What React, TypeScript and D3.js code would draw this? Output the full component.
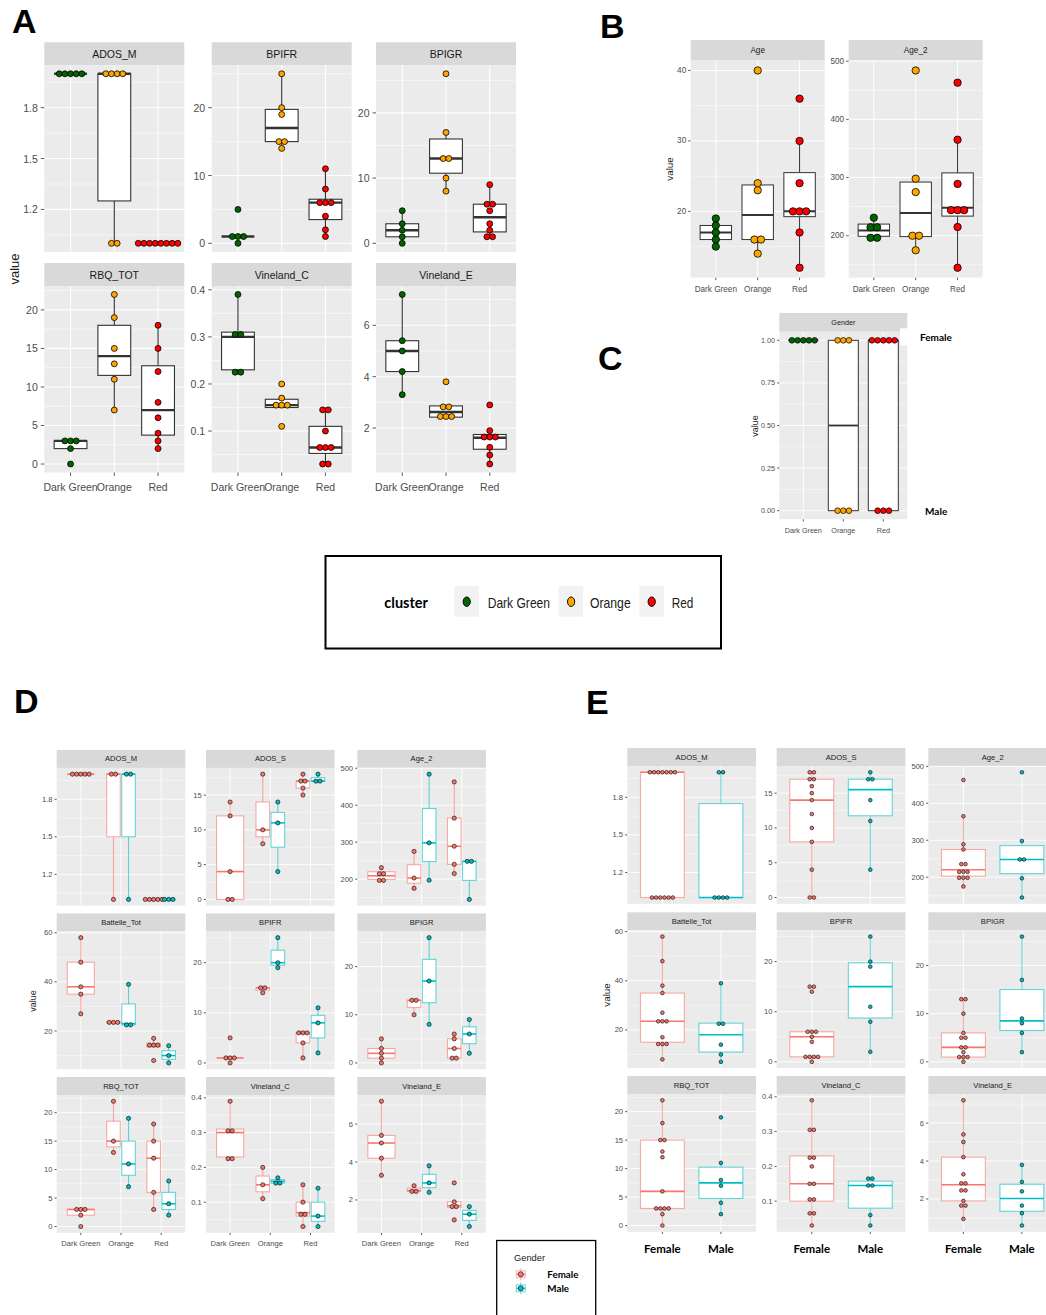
import React from "react";
import * as d3 from "d3";

// ---------- subjects: one entry per child ----------
const cluster = [
  "Dark Green", "Dark Green", "Dark Green", "Dark Green", "Dark Green",
  "Orange", "Orange", "Orange", "Orange", "Orange", "Orange",
  "Red", "Red", "Red", "Red", "Red", "Red", "Red", "Red",
];
const gender = [
  "Female", "Female", "Female", "Female", "Female",
  "Female", "Female", "Female", "Male", "Male", "Male",
  "Female", "Female", "Female", "Female", "Female", "Male", "Male", "Male",
];
const ADOS_M = [2, 2, 2, 2, 2, 2, 2, 1, 2, 2, 1, 1, 1, 1, 1, 1, 1, 1, 1];
const ADOS_S = [14, 12, 4, 0, 0, 18, 10, 8, 14, 11, 4, 18, 17, 17, 16, 15, 18, 17, 17];
const Age = [19, 18, 17, 16, 15, 23, 16, 14, 40, 24, 16, 36, 30, 24, 20, 17, 20, 20, 12];
const Age_2 = [231, 220, 209, 199, 194, 275, 203, 175, 484, 298, 197, 463, 365, 289, 240, 215, 248, 248, 145];
const Battelle_Tot = [58, 48, 38, 35, 27, 23, 23.5, 24, 39, 23, 22, 17, 15, 14, 13.5, 8, 14, 10, 7];
const BPIFR = [5, 1, 1, 1, 0, 15, 15, 14, 25, 20, 19, 6, 6, 6, 4, 1, 11, 8, 2];
const BPIGR = [5, 3, 2, 1, 0, 13, 13, 10, 26, 17, 8, 6, 5, 3, 1, 1, 9, 6, 2];
const RBQ_TOT = [3, 3, 3, 2, 0, 22, 15, 13, 19, 11, 7, 18, 15, 12, 6, 3, 8, 4, 2];
const Vineland_C = [0.39, 0.31, 0.3, 0.23, 0.22, 0.2, 0.15, 0.11, 0.17, 0.16, 0.15, 0.15, 0.1, 0.07, 0.06, 0.03, 0.14, 0.06, 0.03];
const Vineland_E = [7.2, 5.4, 5.0, 4.2, 3.3, 2.75, 2.5, 2.4, 3.8, 2.9, 2.4, 2.9, 1.9, 1.7, 1.6, 0.95, 1.65, 1.25, 0.6];
const GenderCode = gender.map((g) => (g === "Female" ? 1 : 0));

// ---------- categories, colours, axis breaks ----------
const CLUSTERS = ["Dark Green", "Orange", "Red"];
const GENDERS = ["Female", "Male"];
const clusterFill: Record<string, string> = { "Dark Green": "#006400", Orange: "#FFA500", Red: "#FF0000" };
const genderColor: Record<string, string> = { Female: "#F8766D", Male: "#00BFC4" };

const ticks_ADOS_M = [1.2, 1.5, 1.8];
const ticks_ADOS_S = [0, 5, 10, 15];
const ticks_Age = [20, 30, 40];
const ticks_Age_2 = [200, 300, 400, 500];
const ticks_Battelle = [20, 40, 60];
const ticks_BPIFR = [0, 10, 20];
const ticks_BPIGR = [0, 10, 20];
const ticks_RBQ = [0, 5, 10, 15, 20];
const ticks_VinC = [0.1, 0.2, 0.3, 0.4];
const ticks_VinE = [2, 4, 6];
const ticks_Gender = [0, 0.25, 0.5, 0.75, 1];

type VarInfo = { values: number[]; ticks: number[]; digits: number };
const VARS: Record<string, VarInfo> = {
  ADOS_M: { values: ADOS_M, ticks: ticks_ADOS_M, digits: 1 },
  ADOS_S: { values: ADOS_S, ticks: ticks_ADOS_S, digits: 0 },
  Age: { values: Age, ticks: ticks_Age, digits: 0 },
  Age_2: { values: Age_2, ticks: ticks_Age_2, digits: 0 },
  Battelle_Tot: { values: Battelle_Tot, ticks: ticks_Battelle, digits: 0 },
  BPIFR: { values: BPIFR, ticks: ticks_BPIFR, digits: 0 },
  BPIGR: { values: BPIGR, ticks: ticks_BPIGR, digits: 0 },
  RBQ_TOT: { values: RBQ_TOT, ticks: ticks_RBQ, digits: 0 },
  Vineland_C: { values: Vineland_C, ticks: ticks_VinC, digits: 1 },
  Vineland_E: { values: Vineland_E, ticks: ticks_VinE, digits: 0 },
  Gender: { values: GenderCode, ticks: ticks_Gender, digits: 2 },
};

const FONT = "'Liberation Sans', Arial, sans-serif";
const BOLD_FONT = "Lato, 'Liberation Sans', sans-serif";

// ---------- statistics ----------
function boxStats(vals: number[]) {
  const s = [...vals].sort(d3.ascending);
  const q1 = d3.quantile(s, 0.25)!;
  const med = d3.quantile(s, 0.5)!;
  const q3 = d3.quantile(s, 0.75)!;
  const iqr = q3 - q1;
  const lo = d3.min(s.filter((v) => v >= q1 - 1.5 * iqr - 1e-9))!;
  const hi = d3.max(s.filter((v) => v <= q3 + 1.5 * iqr + 1e-9))!;
  return { q1, med, q3, lo, hi };
}

// dot-density binning along the value axis
function densityBins(vals: number[], bw: number) {
  const xs = [...vals].sort(d3.ascending);
  const bins: number[][] = [];
  let end = -Infinity;
  for (const v of xs) {
    if (v >= end - 1e-9) {
      bins.push([]);
      end = v + bw;
    }
    bins[bins.length - 1].push(v);
  }
  return bins.map((b) => ({ center: (b[0] + b[b.length - 1]) / 2, count: b.length }));
}

function minorBreaks(ticks: number[], lo: number, hi: number) {
  const step = ticks[1] - ticks[0];
  const ext = [ticks[0] - step, ...ticks, ticks[ticks.length - 1] + step];
  const out: number[] = [];
  for (let i = 0; i < ext.length - 1; i++) {
    const m = (ext[i] + ext[i + 1]) / 2;
    if (m >= lo && m <= hi) out.push(m);
  }
  return out;
}

// ---------- panel ----------
type Group = { pos: number; width: number; values: number[]; fill: string; line: string; lineOpacity: number };
type Style = {
  font: number;
  tickLen: number;
  gap: number;
  gridW: number;
  boxLineW: number;
  medianW: number;
  dotStroke: number;
  rScale: number;
};
type PanelProps = {
  x0: number;
  y0: number;
  w: number;
  h: number;
  stripH: number;
  title: string;
  nCat: number;
  variable: string;
  groups: Group[];
  st: Style;
  xLabels?: string[];
  xLabelOffset?: number;
  xTicks?: boolean;
};

function Panel(p: PanelProps) {
  const info = VARS[p.variable];
  const [lo, hi] = d3.extent(info.values) as [number, number];
  const r = hi - lo;
  const y = d3.scaleLinear().domain([lo - 0.05 * r, hi + 0.05 * r]).range([p.y0 + p.h, p.y0]);
  const x = d3.scaleLinear().domain([0.4, p.nCat + 0.6]).range([p.x0, p.x0 + p.w]);
  const [dlo, dhi] = y.domain();
  const majors = info.ticks.filter((t) => t >= dlo && t <= dhi);
  const minors = minorBreaks(info.ticks, dlo, dhi);
  const bw = r / 30;
  const dpx = Math.abs(y(bw) - y(0));
  const st = p.st;
  const cats = d3.range(1, p.nCat + 1);
  return (
    <g>
      <rect x={p.x0} y={p.y0 - p.stripH} width={p.w} height={p.stripH} fill="#D9D9D9" />
      <text
        x={p.x0 + p.w / 2}
        y={p.y0 - p.stripH / 2}
        textAnchor="middle"
        dominantBaseline="central"
        fontSize={st.font}
        fontFamily={FONT}
        fill="#1A1A1A"
      >
        {p.title}
      </text>
      <rect x={p.x0} y={p.y0} width={p.w} height={p.h} fill="#EBEBEB" />
      {minors.map((m) => (
        <line key={"mi" + m} x1={p.x0} x2={p.x0 + p.w} y1={y(m)} y2={y(m)} stroke="#FFFFFF" strokeWidth={st.gridW * 0.5} />
      ))}
      {majors.map((m) => (
        <line key={"ma" + m} x1={p.x0} x2={p.x0 + p.w} y1={y(m)} y2={y(m)} stroke="#FFFFFF" strokeWidth={st.gridW} />
      ))}
      {cats.map((c) => (
        <line key={"cx" + c} x1={x(c)} x2={x(c)} y1={p.y0} y2={p.y0 + p.h} stroke="#FFFFFF" strokeWidth={st.gridW} />
      ))}
      {/* y axis */}
      {majors.map((m) => (
        <g key={"yt" + m}>
          <line x1={p.x0 - st.tickLen} x2={p.x0} y1={y(m)} y2={y(m)} stroke="#333333" strokeWidth={0.8} />
          <text
            x={p.x0 - st.tickLen - st.gap}
            y={y(m)}
            textAnchor="end"
            dominantBaseline="central"
            fontSize={st.font}
            fontFamily={FONT}
            fill="#4D4D4D"
          >
            {m.toFixed(info.digits)}
          </text>
        </g>
      ))}
      {/* x axis (bottom row only) */}
      {p.xTicks &&
        cats.map((c) => (
          <line key={"xt" + c} x1={x(c)} x2={x(c)} y1={p.y0 + p.h} y2={p.y0 + p.h + st.tickLen} stroke="#333333" strokeWidth={0.8} />
        ))}
      {p.xLabels &&
        p.xLabels.map((lab, i) => (
          <text
            key={"xl" + i}
            x={x(i + 1)}
            y={p.y0 + p.h + (p.xLabelOffset ?? 12)}
            textAnchor="middle"
            dominantBaseline="central"
            fontSize={st.font}
            fontFamily={FONT}
            fill="#4D4D4D"
          >
            {lab}
          </text>
        ))}
      {/* boxes */}
      {p.groups.map((g, gi) => {
        const b = boxStats(g.values);
        const cx = x(g.pos);
        const half = (x(g.pos + g.width / 2) - x(g.pos - g.width / 2)) / 2;
        return (
          <g key={"bx" + gi}>
            <line x1={cx} x2={cx} y1={y(b.q3)} y2={y(b.hi)} stroke={g.line} strokeOpacity={g.lineOpacity} strokeWidth={st.boxLineW} />
            <line x1={cx} x2={cx} y1={y(b.q1)} y2={y(b.lo)} stroke={g.line} strokeOpacity={g.lineOpacity} strokeWidth={st.boxLineW} />
            <rect
              x={cx - half}
              y={y(b.q3)}
              width={half * 2}
              height={Math.max(0, y(b.q1) - y(b.q3))}
              fill="#FFFFFF"
              stroke={g.line}
              strokeOpacity={g.lineOpacity}
              strokeWidth={st.boxLineW}
            />
            <line x1={cx - half} x2={cx + half} y1={y(b.med)} y2={y(b.med)} stroke={g.line} strokeWidth={st.medianW} />
          </g>
        );
      })}
      {/* stacked dots */}
      {p.groups.map((g, gi) => {
        const bins = densityBins(g.values, bw);
        const cx = x(g.pos);
        return (
          <g key={"dt" + gi}>
            {bins.flatMap((bin, bi) =>
              d3.range(bin.count).map((j) => (
                <circle
                  key={bi + "-" + j}
                  cx={cx + (j - (bin.count - 1) / 2) * dpx}
                  cy={y(bin.center)}
                  r={(dpx / 2) * st.rScale}
                  fill={g.fill}
                  stroke="#000000"
                  strokeWidth={st.dotStroke}
                />
              ))
            )}
          </g>
        );
      })}
    </g>
  );
}

// ---------- group builders ----------
function clusterGroups(variable: string): Group[] {
  const vals = VARS[variable].values;
  return CLUSTERS.map((c, ci) => ({
    pos: ci + 1,
    width: 0.75,
    values: vals.filter((_, i) => cluster[i] === c),
    fill: clusterFill[c],
    line: "#333333",
    lineOpacity: 1,
  }));
}

function dodgedGroups(variable: string): Group[] {
  const vals = VARS[variable].values;
  const out: Group[] = [];
  CLUSTERS.forEach((c, ci) => {
    const present = GENDERS.filter((g) => gender.some((gg, i) => gg === g && cluster[i] === c));
    present.forEach((g, k) => {
      const single = present.length === 1;
      out.push({
        pos: ci + 1 + (single ? 0 : k === 0 ? -0.1875 : 0.1875),
        width: single ? 0.675 : 0.3375,
        values: vals.filter((_, i) => cluster[i] === c && gender[i] === g),
        fill: genderColor[g],
        line: genderColor[g],
        lineOpacity: 0.6,
      });
    });
  });
  return out;
}

function genderGroups(variable: string): Group[] {
  const vals = VARS[variable].values;
  return GENDERS.map((g, gi) => ({
    pos: gi + 1,
    width: 0.75,
    values: vals.filter((_, i) => gender[i] === g),
    fill: genderColor[g],
    line: genderColor[g],
    lineOpacity: 0.6,
  }));
}

// ---------- figure layouts ----------
const A_VARS = ["ADOS_M", "BPIFR", "BPIGR", "RBQ_TOT", "Vineland_C", "Vineland_E"];
const B_VARS = ["Age", "Age_2"];
const DE_VARS = ["ADOS_M", "ADOS_S", "Age_2", "Battelle_Tot", "BPIFR", "BPIGR", "RBQ_TOT", "Vineland_C", "Vineland_E"];

const styleA: Style = { font: 10.5, tickLen: 3.5, gap: 3, gridW: 1.1, boxLineW: 1.1, medianW: 2.4, dotStroke: 0.8, rScale: 1.05 };
const styleB: Style = { font: 8.2, tickLen: 2.5, gap: 2, gridW: 1, boxLineW: 1, medianW: 2, dotStroke: 0.8, rScale: 1.12 };
const styleC: Style = { font: 7.2, tickLen: 2.2, gap: 2, gridW: 0.9, boxLineW: 1, medianW: 1.8, dotStroke: 0.7, rScale: 1 };
const styleD: Style = { font: 7.6, tickLen: 2.2, gap: 2, gridW: 0.9, boxLineW: 1.1, medianW: 1.6, dotStroke: 0.6, rScale: 1 };
const styleE: Style = { ...styleD, rScale: 0.88 };

export default function App() {
  const aCols = [44.3, 211.7, 376];
  const aRows = [65.3, 286];
  const dCols = [56.7, 206, 357.3];
  const dRows = [767.9, 931.4, 1095];
  const eCols = [627.3, 776.7, 928.3];
  const eRows = [766, 930.3, 1094];
  const legendKeys = [
    { name: "Dark Green", kx: 454.3, lx: 487.7, lw: 62.3 },
    { name: "Orange", kx: 558.7, lx: 590, lw: 40.7 },
    { name: "Red", kx: 639.3, lx: 671.7, lw: 21.6 },
  ];
  return (
    <svg
      width={1046}
      height={1315}
      viewBox="0 0 1046 1315"
      style={{ position: "absolute", left: 0, top: 0, background: "#FFFFFF" }}
      fontFamily={FONT}
    >
      <rect x={0} y={0} width={1046} height={1315} fill="#FFFFFF" />

      {/* ---------------- A ---------------- */}
      <text x={12} y={33} fontSize={34} fontWeight="bold" fontFamily={FONT}>A</text>
      {A_VARS.map((v, i) => (
        <Panel
          key={"A" + v}
          x0={aCols[i % 3]}
          y0={aRows[Math.floor(i / 3)]}
          w={140}
          h={186.5}
          stripH={23}
          title={v}
          nCat={3}
          variable={v}
          groups={clusterGroups(v)}
          st={styleA}
          xTicks={i >= 3}
          xLabels={i >= 3 ? CLUSTERS : undefined}
          xLabelOffset={14}
        />
      ))}
      <text x={14} y={269} transform="rotate(-90 14 269)" textAnchor="middle" dominantBaseline="central" fontSize={13} fill="#1A1A1A">
        value
      </text>

      {/* ---------------- B ---------------- */}
      <text x={600} y={38} fontSize={34} fontWeight="bold" fontFamily={FONT}>B</text>
      {B_VARS.map((v, i) => (
        <Panel
          key={"B" + v}
          x0={[690.7, 848.7][i]}
          y0={60.6}
          w={134}
          h={217}
          stripH={20.6}
          title={v}
          nCat={3}
          variable={v}
          groups={clusterGroups(v)}
          st={styleB}
          xTicks
          xLabels={CLUSTERS}
          xLabelOffset={11.8}
        />
      ))}
      <text x={669} y={169} transform="rotate(-90 669 169)" textAnchor="middle" dominantBaseline="central" fontSize={9.8} fill="#1A1A1A">
        value
      </text>

      {/* ---------------- C ---------------- */}
      <text x={598} y={370} fontSize={34} fontWeight="bold" fontFamily={FONT}>C</text>
      <Panel
        x0={779.3}
        y0={331.8}
        w={128}
        h={187.4}
        stripH={18.8}
        title="Gender"
        nCat={3}
        variable="Gender"
        groups={clusterGroups("Gender")}
        st={styleC}
        xTicks
        xLabels={CLUSTERS}
        xLabelOffset={10.8}
      />
      <text x={755} y={426} transform="rotate(-90 755 426)" textAnchor="middle" dominantBaseline="central" fontSize={9} fill="#1A1A1A">
        value
      </text>
      <rect x={900} y={328.3} width={62} height={17} fill="#FFFFFF" />
      <text x={920} y={337.3} dominantBaseline="central" fontSize={10} fontWeight="bold" fontFamily={BOLD_FONT} fill="#000000">
        Female
      </text>
      <text x={925} y={510.7} dominantBaseline="central" fontSize={10} fontWeight="bold" fontFamily={BOLD_FONT} fill="#000000">
        Male
      </text>

      {/* ---------------- cluster legend ---------------- */}
      <rect x={325.5} y={556} width={395.5} height={92.5} fill="#FFFFFF" stroke="#000000" strokeWidth={2} />
      <text x={384.3} y={602.7} dominantBaseline="central" fontSize={14.5} fontWeight="bold" fontFamily={BOLD_FONT} fill="#000000">
        cluster
      </text>
      {legendKeys.map((k) => (
        <g key={"lk" + k.name}>
          <rect x={k.kx} y={586} width={24.5} height={30.7} fill="#F2F2F2" />
          <ellipse cx={k.kx + 12.4} cy={601.7} rx={3.6} ry={4.7} fill={clusterFill[k.name]} stroke="#000000" strokeWidth={1} />
          <text
            x={k.lx}
            y={602.7}
            dominantBaseline="central"
            fontSize={15}
            textLength={k.lw}
            lengthAdjust="spacingAndGlyphs"
            fill="#1A1A1A"
          >
            {k.name}
          </text>
        </g>
      ))}

      {/* ---------------- D ---------------- */}
      <text x={14} y={713} fontSize={34} fontWeight="bold" fontFamily={FONT}>D</text>
      {DE_VARS.map((v, i) => (
        <Panel
          key={"D" + v}
          x0={dCols[i % 3]}
          y0={dRows[Math.floor(i / 3)]}
          w={128.6}
          h={137.8}
          stripH={18}
          title={v}
          nCat={3}
          variable={v}
          groups={dodgedGroups(v)}
          st={styleD}
          xTicks={i >= 6}
          xLabels={i >= 6 ? CLUSTERS : undefined}
          xLabelOffset={10.3}
        />
      ))}
      <text x={33.3} y={1001} transform="rotate(-90 33.3 1001)" textAnchor="middle" dominantBaseline="central" fontSize={9} fill="#1A1A1A">
        value
      </text>

      {/* gender legend */}
      <rect x={496.7} y={1240.5} width={99} height={100} fill="#FFFFFF" stroke="#000000" strokeWidth={1.3} />
      <text x={514} y={1257.7} dominantBaseline="central" fontSize={9.3} fill="#1A1A1A">
        Gender
      </text>
      {GENDERS.map((g, gi) => {
        const cy = 1274.3 + gi * 14;
        const col = genderColor[g];
        return (
          <g key={"gk" + g}>
            <line x1={520.8} x2={520.8} y1={cy - 6} y2={cy + 6} stroke={col} strokeOpacity={0.6} strokeWidth={1} />
            <rect x={516.3} y={cy - 3.5} width={9} height={7} fill="#FFFFFF" stroke={col} strokeOpacity={0.6} strokeWidth={1} />
            <line x1={516.3} x2={525.3} y1={cy} y2={cy} stroke={col} strokeWidth={1} />
            <circle cx={520.8} cy={cy} r={2.6} fill={col} stroke="#000000" strokeWidth={0.6} />
            <text x={547.3} y={cy} dominantBaseline="central" fontSize={9.8} fontWeight="bold" fontFamily={BOLD_FONT} fill="#000000">
              {g}
            </text>
          </g>
        );
      })}

      {/* ---------------- E ---------------- */}
      <text x={586} y={714} fontSize={34} fontWeight="bold" fontFamily={FONT}>E</text>
      {DE_VARS.map((v, i) => (
        <Panel
          key={"E" + v}
          x0={eCols[i % 3]}
          y0={eRows[Math.floor(i / 3)]}
          w={128.7}
          h={137.8}
          stripH={18}
          title={v}
          nCat={2}
          variable={v}
          groups={genderGroups(v)}
          st={styleE}
          xTicks={i >= 6}
        />
      ))}
      <text x={606.7} y={995} transform="rotate(-90 606.7 995)" textAnchor="middle" dominantBaseline="central" fontSize={9.8} fill="#1A1A1A">
        value
      </text>
      {eCols.map((cx0, ci) =>
        GENDERS.map((g, gi) => {
          const xs = d3.scaleLinear().domain([0.4, 2.6]).range([cx0, cx0 + 128.7]);
          return (
            <text
              key={"el" + ci + g}
              x={xs(gi + 1)}
              y={1248.3}
              textAnchor="middle"
              dominantBaseline="central"
              fontSize={11.5}
              fontWeight="bold"
              fontFamily={BOLD_FONT}
              fill="#000000"
            >
              {g}
            </text>
          );
        })
      )}
    </svg>
  );
}
